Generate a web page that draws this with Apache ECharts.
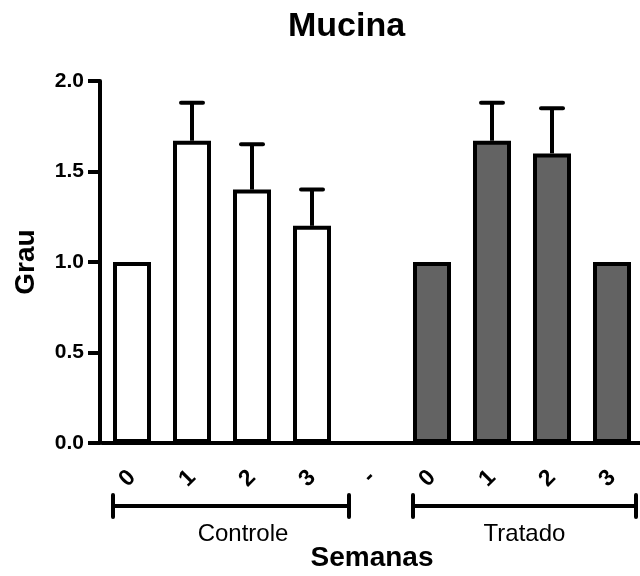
<!DOCTYPE html>
<html><head><meta charset="utf-8">
<script src="https://cdn.jsdelivr.net/npm/echarts@6/dist/echarts.min.js"></script>
<style>html,body{margin:0;padding:0;background:#fff}#c{width:640px;height:576px}</style>
</head><body><div id="c"></div>
<script>
const categories = ['0', '1', '2', '3', '-', '0', '1', '2', '3'];
const controleValues = [1.0, 1.67, 1.4, 1.2];
const controleUpper = [1.0, 1.88, 1.65, 1.40];
const tratadoValues = [1.0, 1.67, 1.6, 1.0];
const tratadoUpper = [1.0, 1.88, 1.85, 1.0];
const yTicks = [0, 0.5, 1.0, 1.5, 2.0];
const groupNames = ['Controle', 'Tratado'];
const groupFirst = [0, 5];
const groupLast = [3, 8];

const FONT = "'Liberation Sans', Arial, sans-serif";
const controleStart = 0, tratadoStart = 5;

const controleData = categories.map((c, i) =>
  (i >= controleStart && i < controleStart + controleValues.length) ? controleValues[i - controleStart] : '-');
const tratadoData = categories.map((c, i) =>
  (i >= tratadoStart && i < tratadoStart + tratadoValues.length) ? tratadoValues[i - tratadoStart] : '-');

const errData = [];
controleValues.forEach((v, i) => { if (controleUpper[i] > v) errData.push([controleStart + i, v, controleUpper[i]]); });
tratadoValues.forEach((v, i) => { if (tratadoUpper[i] > v) errData.push([tratadoStart + i, v, tratadoUpper[i]]); });

const chart = echarts.init(document.getElementById('c'));
chart.setOption({
  animation: false,
  backgroundColor: '#fff',
  title: {
    text: 'Mucina', left: 288, top: 10, padding: 0,
    textStyle: { fontFamily: FONT, fontSize: 34, fontWeight: 'bold', color: '#000' }
  },
  grid: { left: 102, top: 81, width: 540, height: 362, containLabel: false, outerBoundsMode: 'none' },
  xAxis: {
    type: 'category', data: categories,
    name: 'Semanas', nameLocation: 'middle', nameGap: 101,
    nameTextStyle: { fontFamily: FONT, fontSize: 28, fontWeight: 'bold', color: '#000' },
    axisLine: { lineStyle: { color: '#000', width: 4 } },
    axisTick: { alignWithLabel: true, length: 11, lineStyle: { color: '#000', width: 4 } },
    axisLabel: { rotate: 45, margin: 31, fontFamily: FONT, fontSize: 23, fontWeight: 'bold', color: '#000', hideOverlap: false },
  },
  yAxis: {
    type: 'value', min: 0, max: 2, interval: 0.5, offset: 2,
    name: 'Grau', nameLocation: 'middle', nameGap: 60,
    nameTextStyle: { fontFamily: FONT, fontSize: 28, fontWeight: 'bold', color: '#000' },
    splitLine: { show: false },
    axisLine: { show: true, lineStyle: { color: '#000', width: 4 } },
    axisTick: { show: true, length: 12, lineStyle: { color: '#000', width: 4 } },
    axisLabel: {
      margin: 16, fontFamily: FONT, fontSize: 21, fontWeight: 'bold', color: '#000',
      formatter: v => yTicks.indexOf(v) >= 0 ? v.toFixed(1) : ''
    }
  },
  series: [
    {
      type: 'bar', name: 'Controle', data: controleData, barWidth: 38, barGap: '-100%',
      itemStyle: { color: '#ffffff', borderColor: '#000', borderWidth: 4 }, z: 3
    },
    {
      type: 'bar', name: 'Tratado', data: tratadoData, barWidth: 38, barGap: '-100%',
      itemStyle: { color: '#636363', borderColor: '#000', borderWidth: 4 }, z: 3
    },
    {
      type: 'custom', name: 'SEM', data: errData, z: 4,
      renderItem(params, api) {
        const x = api.value(0), lo = api.value(1), hi = api.value(2);
        const p0 = api.coord([x, lo]), p1 = api.coord([x, hi]);
        const cap = 11;
        return { type: 'group', children: [
          { type: 'line', shape: { x1: p0[0], y1: p0[1], x2: p1[0], y2: p1[1] }, style: { stroke: '#000', lineWidth: 4 } },
          { type: 'line', shape: { x1: p1[0] - cap, y1: p1[1], x2: p1[0] + cap, y2: p1[1] }, style: { stroke: '#000', lineWidth: 4, lineCap: 'round' } }
        ]};
      }
    }
  ]
});

// group brackets beneath the axis, positioned from the category scale
const y0 = chart.convertToPixel({ yAxisIndex: 0 }, 0);
const padL = 19, padR = [37, 24], textShift = [12, 0];
const graphics = [];
groupNames.forEach((name, g) => {
  const xa = chart.convertToPixel({ xAxisIndex: 0 }, groupFirst[g]) - padL;
  const xb = chart.convertToPixel({ xAxisIndex: 0 }, groupLast[g]) + padR[g];
  const yb = y0 + 63;
  const ls = { stroke: '#000', lineWidth: 4, lineCap: 'round' };
  graphics.push({ type: 'line', shape: { x1: xa, y1: yb, x2: xb, y2: yb }, style: ls });
  graphics.push({ type: 'line', shape: { x1: xa, y1: yb - 11, x2: xa, y2: yb + 11 }, style: ls });
  graphics.push({ type: 'line', shape: { x1: xb, y1: yb - 11, x2: xb, y2: yb + 11 }, style: ls });
  graphics.push({ type: 'text', x: (xa + xb) / 2 + textShift[g], y: yb + 28,
    style: { text: name, fill: '#000', font: "24px 'Liberation Sans', Arial, sans-serif", textAlign: 'center', textVerticalAlign: 'middle' } });
});
chart.setOption({ graphic: graphics });
</script></body></html>
